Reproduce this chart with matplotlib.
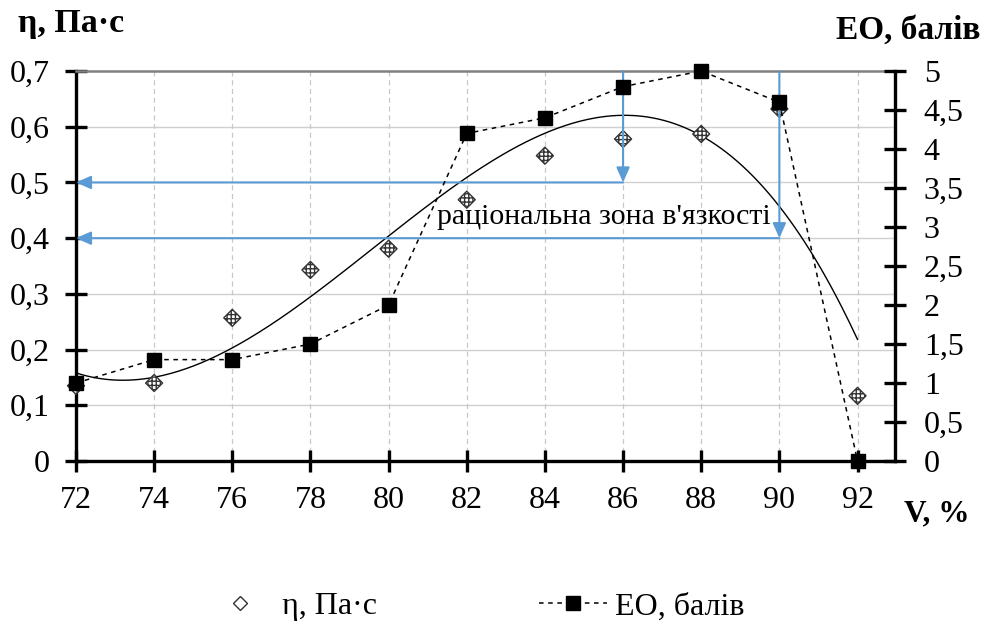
import numpy as np
import matplotlib
matplotlib.use("Agg")
import matplotlib.pyplot as plt
from matplotlib.lines import Line2D

plt.rcParams['font.family'] = ['Liberation Serif', 'DejaVu Serif']

# Fractional volume, %
v_pct = [72, 74, 76, 78, 80, 82, 84, 86, 88, 90, 92]
# Viscosity, Pa·s
eta = [0.135, 0.140, 0.257, 0.343, 0.381, 0.469, 0.548, 0.578, 0.587, 0.632, 0.117]
# Organoleptic score, points
eo = [1.0, 1.3, 1.3, 1.5, 2.0, 4.2, 4.4, 4.8, 5.0, 4.6, 0.0]

x_ticks = [72, 74, 76, 78, 80, 82, 84, 86, 88, 90, 92]
eta_ticks = [0, 0.1, 0.2, 0.3, 0.4, 0.5, 0.6, 0.7]
eta_tick_labels = ['0', '0,1', '0,2', '0,3', '0,4', '0,5', '0,6', '0,7']
eo_ticks = [0, 0.5, 1, 1.5, 2, 2.5, 3, 3.5, 4, 4.5, 5]
eo_tick_labels = ['0', '0,5', '1', '1,5', '2', '2,5', '3', '3,5', '4', '4,5', '5']

# Rational viscosity zone bounds (V, %) and (η, Pa·s)
zone_v = [86, 90]
zone_eta = [0.5, 0.4]

fig = plt.figure(figsize=(9.84, 6.23), dpi=100)
ax = fig.add_axes([0.0772, 0.260, 0.832, 0.626])
ax2 = ax.twinx()

FS = 23
blue = '#5B9BD5'

ax.set_xlim(72, 92.95)
ax.set_ylim(0, 0.7)
ax2.set_ylim(0, 5)

# grid
for y in eta_ticks[1:-1]:
    ax.axhline(y, color='#d0d0d0', lw=1.0, zorder=0)
for x in x_ticks[1:]:
    ax.axvline(x, color='#c8c8c8', lw=0.9, ls=(0, (4, 3)), zorder=0)

# polynomial trend of viscosity
coef = np.polyfit(v_pct, eta, 3)
xs = np.linspace(v_pct[0], v_pct[-1], 300)
ax.plot(xs, np.polyval(coef, xs), color='black', lw=1.0, zorder=3)

# viscosity points
ax.scatter(v_pct, eta, marker='D', s=75, facecolors='white', edgecolors='#333333',
           linewidths=1.0, hatch='++++', zorder=5, clip_on=False)

# score series on right axis
ax2.plot(v_pct, eo, color='black', lw=1.1, ls=(0, (3, 3)),
         marker='s', markersize=9.5, markerfacecolor='black', markeredgecolor='black',
         zorder=6, clip_on=False)

# arrows of the rational zone
arrow_kw = dict(arrowstyle='-|>,head_length=0.9,head_width=0.4', color=blue, lw=1.5,
                shrinkA=0, shrinkB=0)
for xv, ye in zip(zone_v, zone_eta):
    ax.annotate('', xy=(xv, ye), xytext=(xv, 0.7), arrowprops=arrow_kw, zorder=7)
    ax.annotate('', xy=(72, ye), xytext=(xv, ye), arrowprops=arrow_kw, zorder=7)

ax.text(85.5, 0.438, "раціональна зона в'язкості", fontsize=21.5, ha='center', va='center',
        zorder=8)

# spines and ticks
for s in ['left', 'bottom']:
    ax.spines[s].set_linewidth(2.4)
ax.spines['right'].set_visible(False)
ax.spines['top'].set_color('#808080')
ax.spines['top'].set_linewidth(1.8)
ax2.spines['right'].set_linewidth(2.4)
for s in ['left', 'bottom', 'top']:
    ax2.spines[s].set_visible(False)

ax.set_xticks(x_ticks)
ax.set_xticklabels([str(t) for t in x_ticks], fontsize=FS)
ax.set_yticks(eta_ticks)
ax.set_yticklabels(eta_tick_labels, fontsize=FS)
ax2.set_yticks(eo_ticks)
ax2.set_yticklabels(eo_tick_labels, fontsize=FS)
ax.tick_params(axis='x', direction='inout', length=16, width=2.4, pad=10)
ax.tick_params(axis='y', direction='inout', length=16, width=2.4, pad=11)
ax2.tick_params(axis='y', direction='inout', length=16, width=2.4, pad=13)

fig.text(0.018, 0.962, 'η, Па·с', fontsize=24.5, fontweight='bold', ha='left', va='center')
fig.text(0.996, 0.952, 'ЕО, балів', fontsize=24, fontweight='bold', ha='right', va='center')
fig.text(0.919, 0.175, 'V, %', fontsize=22.5, fontweight='bold', ha='left', va='center')

# legend
h1 = Line2D([], [], ls='none', marker='D', markersize=7, markerfacecolor='white',
            markeredgecolor='#333333')
h2 = Line2D([], [], color='black', lw=1.1, ls=(0, (3, 3)), marker='s', markersize=9.5,
            markerfacecolor='black')
fig.legend([h1, h2], ['η, Па·с', 'ЕО, балів'], loc='center', bbox_to_anchor=(0.483, 0.026),
           ncol=2, frameon=False, fontsize=FS, columnspacing=5.1, handlelength=2.1,
           handletextpad=0.25, borderpad=0)

fig.savefig('out.png', dpi=100)
